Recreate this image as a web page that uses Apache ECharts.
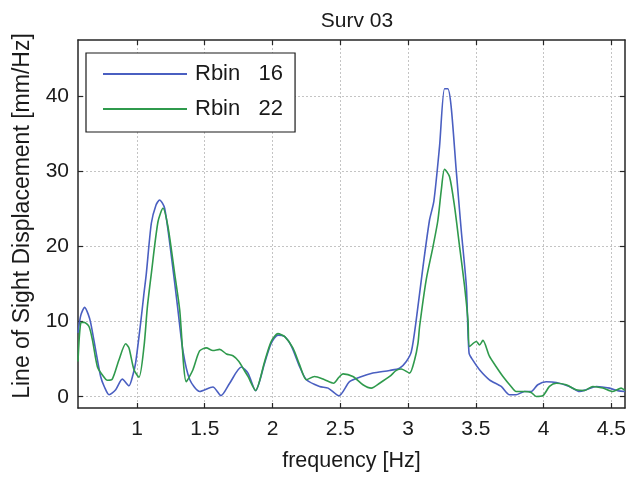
<!DOCTYPE html>
<html>
<head>
<meta charset="utf-8">
<script src="https://cdn.jsdelivr.net/npm/echarts@6/dist/echarts.min.js"></script>
<style>html,body{margin:0;padding:0;background:#fff;}#c{width:629px;height:478px;}</style>
</head>
<body>
<div id="c"></div>
<script>
const titleText = 'Surv 03';
const xName = 'frequency [Hz]';
const yName = 'Line of Sight Displacement [mm/Hz]';
const xTicks = [1, 1.5, 2, 2.5, 3, 3.5, 4, 4.5];
const yTicks = [0, 10, 20, 30, 40];
const seriesNames = ['Rbin   16', 'Rbin   22'];

const blueFreq = [0.565,0.585,0.614,0.64,0.659,0.695,0.732,0.76,0.794,0.843,0.892,0.941,0.97,0.99,1.027,1.05,1.069,1.106,1.14,1.167,1.204,1.254,1.302,1.34,1.389,1.463,1.56,1.62,1.684,1.77,1.819,1.875,1.942,1.99,2.04,2.09,2.14,2.2,2.25,2.347,2.41,2.49,2.568,2.642,2.74,2.864,2.937,2.987,3.024,3.06,3.11,3.158,3.19,3.232,3.269,3.293,3.318,3.355,3.392,3.43,3.45,3.48,3.527,3.6,3.687,3.748,3.797,3.859,3.908,3.957,4.019,4.093,4.19,4.265,4.314,4.388,4.486,4.547,4.6];
const blueVal  = [8.5,10.8,11.9,11.0,9.8,6.25,2.7,1.3,0.27,0.93,2.35,1.46,2.9,4.5,9.8,13.5,16.4,23.1,25.5,26.2,25.1,18.7,11.6,6.0,2.3,0.7,1.3,0.15,1.8,3.95,3.15,0.8,4.5,7.1,8.2,8.0,6.7,4.0,2.26,1.37,1.15,0.13,2.0,2.6,3.15,3.5,3.8,4.7,6.0,10.2,17.3,23.5,26.0,33.3,41.0,41.0,38.6,30.2,22.2,14.7,5.8,4.8,3.6,2.26,1.37,0.27,0.27,0.7,0.7,1.6,2.0,1.9,1.37,0.7,0.93,1.37,1.15,0.8,0.7];

const greenFreq = [0.565,0.585,0.61,0.646,0.671,0.708,0.745,0.782,0.818,0.867,0.917,0.941,0.978,1.015,1.052,1.077,1.106,1.155,1.192,1.229,1.278,1.315,1.364,1.413,1.462,1.512,1.56,1.61,1.66,1.708,1.752,1.782,1.819,1.875,1.942,1.99,2.04,2.09,2.15,2.2,2.25,2.31,2.384,2.45,2.49,2.52,2.593,2.667,2.729,2.79,2.864,2.913,2.95,3.011,3.048,3.073,3.085,3.134,3.184,3.22,3.245,3.269,3.306,3.343,3.38,3.417,3.442,3.454,3.503,3.527,3.552,3.6,3.65,3.7,3.76,3.797,3.859,3.908,3.945,3.994,4.043,4.093,4.166,4.24,4.303,4.363,4.437,4.51,4.572,4.6];
const greenVal  = [4.7,9.8,9.9,9.35,7.6,4.0,2.9,2.2,2.35,4.9,7.05,6.5,3.6,2.6,6.7,12.0,16.4,23.3,25.1,22.6,16.4,11.6,2.0,3.6,6.1,6.5,6.15,6.3,5.7,5.45,4.7,3.8,2.7,0.84,4.7,7.35,8.4,8.0,6.5,4.25,2.26,2.7,2.26,1.8,2.6,3.05,2.7,1.6,1.15,1.8,2.7,3.5,3.7,3.15,4.9,7.1,9.35,15.6,20.0,23.5,27.5,30.3,29.3,25.3,20.0,14.7,10.2,6.7,7.35,6.9,7.5,5.4,4.0,2.7,1.37,0.7,0.7,0.57,0.04,0.13,1.37,1.8,1.6,0.93,0.84,1.37,1.15,0.7,1.15,0.84];

const zip = (a, b) => a.map((v, i) => [v, b[i]]);

const FONT = 'Liberation Sans, Arial, sans-serif';
const axisColor = '#262626';
const textColor = '#1a1a1a';
const blue = '#4a5fc1';
const green = '#2f9a4c';
const chart = echarts.init(document.getElementById('c'), null, {renderer: 'canvas'});

const baseX = {
  type: 'value', min: 0.565, max: 4.6,
  axisLine: {show: true, onZero: false, lineStyle: {color: axisColor, width: 1.5}},
};
const baseY = {
  type: 'value', min: -1.5, max: 47.5,
  axisLine: {show: true, onZero: false, lineStyle: {color: axisColor, width: 1.5}},
};

chart.setOption({
  animation: false,
  backgroundColor: '#ffffff',
  title: {
    text: titleText, left: 352, top: 6, textAlign: 'center',
    textStyle: {fontFamily: FONT, fontSize: 21, fontWeight: 'normal', color: textColor}
  },
  grid: {left: 78, top: 40, right: 2, bottom: 70, containLabel: false},
  legend: {
    orient: 'vertical', left: 86, top: 53,
    backgroundColor: '#fff',
    borderColor: textColor, borderWidth: 1.2, borderRadius: 0,
    padding: [10, 12, 12, 17],
    icon: 'rect',
    itemWidth: 84, itemHeight: 2, itemGap: 13,
    textStyle: {fontFamily: FONT, fontSize: 22, lineHeight: 22, color: textColor, padding: [0, 0, 0, 3]},
    data: [
      {name: seriesNames[0], itemStyle: {color: blue}},
      {name: seriesNames[1], itemStyle: {color: green}}
    ]
  },
  xAxis: [
    Object.assign({}, baseX, {
      position: 'bottom',
      name: xName, nameLocation: 'middle', nameGap: 42,
      nameTextStyle: {fontFamily: FONT, fontSize: 21.5, color: textColor},
      axisTick: {show: true, inside: true, length: 5, customValues: xTicks, lineStyle: {color: axisColor, width: 1.2}},
      axisLabel: {show: true, margin: 11, customValues: xTicks, fontFamily: FONT, fontSize: 21, color: textColor},
      splitLine: {show: true, lineStyle: {color: '#c4c4c4', type: [2, 2], width: 1}}
    }),
    Object.assign({}, baseX, {
      position: 'top',
      axisTick: {show: true, inside: true, length: 5, customValues: xTicks, lineStyle: {color: axisColor, width: 1.2}},
      axisLabel: {show: false},
      splitLine: {show: false}
    })
  ],
  yAxis: [
    Object.assign({}, baseY, {
      position: 'left',
      name: yName, nameLocation: 'middle', nameGap: 44,
      nameTextStyle: {fontFamily: FONT, fontSize: 23, color: textColor, padding: [0, 0, 0, 16]},
      axisTick: {show: true, inside: true, length: 5, customValues: yTicks, lineStyle: {color: axisColor, width: 1.2}},
      axisLabel: {show: true, margin: 9, customValues: yTicks, fontFamily: FONT, fontSize: 21, color: textColor},
      splitLine: {show: true, lineStyle: {color: '#c4c4c4', type: [2, 2], width: 1}}
    }),
    Object.assign({}, baseY, {
      position: 'right',
      axisTick: {show: true, inside: true, length: 5, customValues: yTicks, lineStyle: {color: axisColor, width: 1.2}},
      axisLabel: {show: false},
      splitLine: {show: false}
    })
  ],
  series: [
    {
      name: seriesNames[0], type: 'line', xAxisIndex: 0, yAxisIndex: 0,
      data: zip(blueFreq, blueVal), symbol: 'none', smooth: 0.25, clip: true,
      lineStyle: {color: blue, width: 1.6}, itemStyle: {color: blue}, z: 3
    },
    {
      name: seriesNames[1], type: 'line', xAxisIndex: 0, yAxisIndex: 0,
      data: zip(greenFreq, greenVal), symbol: 'none', smooth: 0.25, clip: true,
      lineStyle: {color: green, width: 1.6}, itemStyle: {color: green}, z: 4
    }
  ]
});
</script>
</body>
</html>
